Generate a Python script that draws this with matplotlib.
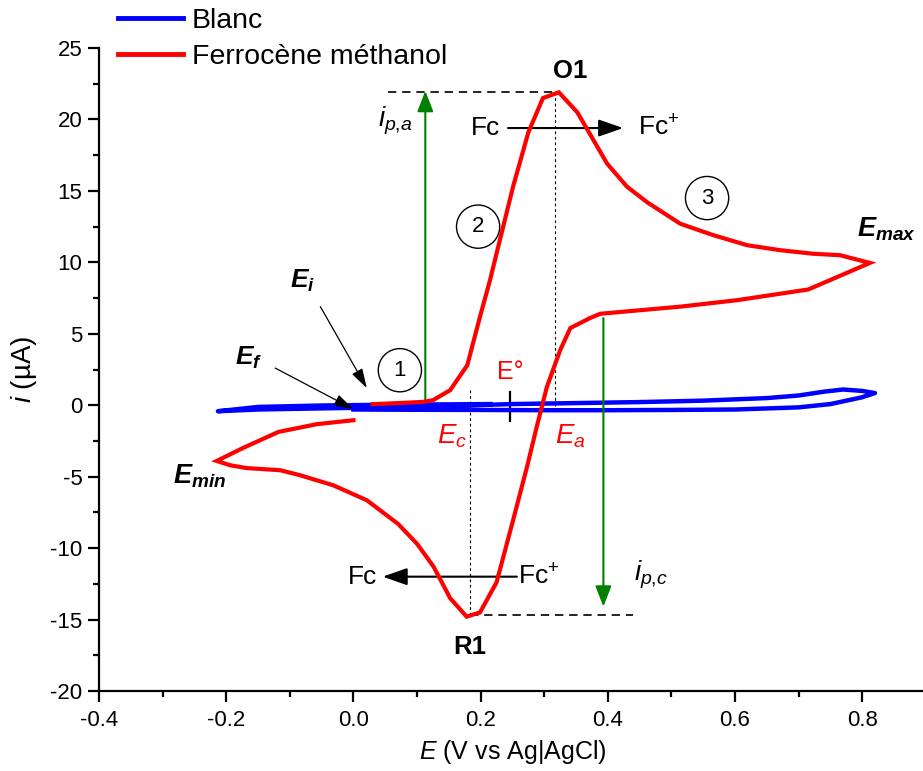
import matplotlib
matplotlib.use("Agg")
import matplotlib.pyplot as plt

plt.rcParams['font.family'] = ['Liberation Sans', 'DejaVu Sans']
plt.rcParams['mathtext.fontset'] = 'custom'
plt.rcParams['mathtext.rm'] = 'Liberation Sans'
plt.rcParams['mathtext.it'] = 'Liberation Sans:italic'
plt.rcParams['mathtext.bf'] = 'Liberation Sans:bold'
plt.rcParams['mathtext.bfit'] = 'Liberation Sans:italic:bold'
plt.rcParams['axes.unicode_minus'] = False

# Ferrocène méthanol CV
fc_E = [0.03, 0.07, 0.109, 0.125, 0.152, 0.179, 0.199, 0.215, 0.226, 0.251, 0.275, 0.298,
        0.323, 0.352, 0.399, 0.430, 0.462, 0.514, 0.566, 0.619, 0.671, 0.723, 0.765, 0.812,
        0.749, 0.715, 0.603, 0.514, 0.388, 0.372, 0.341, 0.325, 0.304, 0.288, 0.273, 0.251,
        0.225, 0.199, 0.178, 0.152, 0.126, 0.100, 0.070, 0.021, -0.032, -0.084, -0.115,
        -0.168, -0.194, -0.215, -0.174, -0.118, -0.058, 0.0]
fc_i = [0.07, 0.15, 0.23, 0.35, 1.05, 2.8, 6.2, 8.8, 10.8, 15.3, 19.1, 21.5,
        21.9, 20.5, 16.9, 15.3, 14.2, 12.7, 11.9, 11.2, 10.85, 10.6, 10.5, 9.96,
        8.75, 8.1, 7.35, 6.9, 6.4, 6.1, 5.4, 3.85, 1.26, -1.54, -4.3, -8.05,
        -12.4, -14.5, -14.8, -13.5, -11.3, -9.7, -8.3, -6.65, -5.6, -4.9, -4.55,
        -4.4, -4.2, -3.9, -3.0, -1.87, -1.33, -1.05]

# Blanc CV
bl_E = [0.215, 0.15, 0.05, -0.05, -0.15, -0.213, -0.15, -0.05, 0.05, 0.15, 0.25, 0.35,
        0.45, 0.55, 0.65, 0.70, 0.74, 0.77, 0.80, 0.82, 0.80, 0.75, 0.70, 0.60, 0.50,
        0.40, 0.30, 0.20, 0.10, 0.0]
bl_i = [0.08, 0.06, 0.03, -0.02, -0.12, -0.42, -0.3, -0.22, -0.15, -0.05, 0.08, 0.15,
        0.22, 0.32, 0.5, 0.68, 0.95, 1.1, 1.0, 0.85, 0.56, 0.08, -0.15, -0.3, -0.33,
        -0.35, -0.35, -0.33, -0.32, -0.3]

x_ticks = [-0.4, -0.2, 0.0, 0.2, 0.4, 0.6, 0.8]
y_ticks = [-20, -15, -10, -5, 0, 5, 10, 15, 20, 25]

fig = plt.figure(figsize=(9.23, 7.71), dpi=100)
ax = fig.add_axes([0.1073, 0.1038, 0.8958, 0.8339])

ax.plot(bl_E, bl_i, color='#0000ff', lw=3.2, label='Blanc', solid_joinstyle='round', zorder=3)
ax.plot(fc_E, fc_i, color='#ff0000', lw=3.0, label='Ferrocène méthanol', solid_joinstyle='miter', zorder=4)

ax.set_xlim(-0.4, 0.9)
ax.set_ylim(-20, 25)
ax.set_xticks(x_ticks)
ax.set_xticklabels([f'{v:.1f}' for v in x_ticks])
ax.set_yticks(y_ticks)
ax.set_xticks([-0.3, -0.1, 0.1, 0.3, 0.5, 0.7], minor=True)
ax.set_yticks([-17.5, -12.5, -7.5, -2.5, 2.5, 7.5, 12.5, 17.5, 22.5], minor=True)
for s in ['top', 'right']:
    ax.spines[s].set_visible(False)
for s in ['left', 'bottom']:
    ax.spines[s].set_linewidth(1.6)
ax.tick_params(which='major', direction='out', length=8, width=1.6, labelsize=16)
ax.tick_params(which='minor', direction='out', length=4, width=1.6)
ax.tick_params(axis='x', which='major', pad=6)
ax.tick_params(axis='y', which='major', pad=4)

ax.set_xlabel(r'$E$ (V vs Ag|AgCl)', fontsize=18, labelpad=5)
ax.set_ylabel(r'$i$ (µA)', fontsize=20, labelpad=8)

leg = ax.legend(loc='upper left', bbox_to_anchor=(0.1155, 1.004), bbox_transform=fig.transFigure,
                frameon=False, fontsize=20.5, handlelength=2.28, handletextpad=0.32,
                labelspacing=0.35, borderaxespad=0)
for line in leg.get_lines():
    line.set_linewidth(3.5)

# dashed / dotted guide lines
ax.plot([0.055, 0.317], [21.9, 21.9], color='black', lw=1.2, ls=(0, (5, 3.5)))
ax.plot([0.183, 0.44], [-14.7, -14.7], color='black', lw=1.2, ls=(0, (5, 3.5)))
ax.plot([0.317, 0.317], [21.9, -0.1], color='black', lw=0.8, ls=(0, (2.5, 2.5)))
ax.plot([0.184, 0.184], [1.1, -14.7], color='black', lw=0.8, ls=(0, (2.5, 2.5)))
ax.plot([0.246, 0.246], [0.93, -1.1], color='black', lw=1.6)

# green peak arrows
ax.annotate('', xy=(0.113, 22.0), xytext=(0.113, 0.3),
            arrowprops=dict(arrowstyle='-|>,head_length=0.9,head_width=0.35', color='#008000',
                            lw=1.5, mutation_scale=14, shrinkA=0, shrinkB=0))
ax.annotate('', xy=(0.393, -14.1), xytext=(0.393, 6.1),
            arrowprops=dict(arrowstyle='-|>,head_length=0.9,head_width=0.35', color='#008000',
                            lw=1.5, mutation_scale=14, shrinkA=0, shrinkB=0))

# Fc -> Fc+ arrows
ax.annotate('', xy=(0.424, 19.4), xytext=(0.243, 19.4),
            arrowprops=dict(arrowstyle='-|>,head_length=1.0,head_width=0.35', color='black',
                            lw=1.5, mutation_scale=15, shrinkA=0, shrinkB=0))
ax.annotate('', xy=(0.046, -12.0), xytext=(0.257, -12.0),
            arrowprops=dict(arrowstyle='-|>,head_length=1.0,head_width=0.35', color='black',
                            lw=1.5, mutation_scale=15, shrinkA=0, shrinkB=0))
ax.text(0.231, 19.4, 'Fc', fontsize=19, ha='right', va='center')
ax.text(0.447, 19.4, 'Fc$^{+}$', fontsize=19, ha='left', va='center')
ax.text(0.037, -12.0, 'Fc', fontsize=19, ha='right', va='center')
ax.text(0.259, -12.0, 'Fc$^{+}$', fontsize=19, ha='left', va='center')

# E_i / E_f arrows
ax.annotate('', xy=(0.021, 1.2), xytext=(-0.052, 6.9),
            arrowprops=dict(arrowstyle='-|>,head_length=1.0,head_width=0.3', color='black',
                            lw=0.9, mutation_scale=12, shrinkA=0, shrinkB=0))
ax.annotate('', xy=(0.0, -0.28), xytext=(-0.123, 2.6),
            arrowprops=dict(arrowstyle='-|>,head_length=1.0,head_width=0.3', color='black',
                            lw=0.9, mutation_scale=12, shrinkA=0, shrinkB=0))

# labels
ax.text(0.341, 23.4, 'O1', fontsize=18.5, fontweight='bold', ha='center', va='center')
ax.text(0.183, -16.9, 'R1', fontsize=18.5, fontweight='bold', ha='center', va='center')
ax.text(0.066, 19.9, r'$i_{p{,}a}$', fontsize=20, ha='center', va='center')
ax.text(0.468, -11.9, r'$i_{p{,}c}$', fontsize=20, ha='center', va='center')
ax.text(0.246, 2.3, 'E°', fontsize=18, color='#ff0000', ha='center', va='center')
ax.text(0.155, -2.2, r'$E_c$', fontsize=20, color='#ff0000', ha='center', va='center')
ax.text(0.341, -2.2, r'$E_a$', fontsize=20, color='#ff0000', ha='center', va='center')
ax.text(-0.08, 8.7, r'$\mathbfit{E}_{\mathbfit{i}}$', fontsize=19, ha='center', va='center')
ax.text(-0.165, 3.3, r'$\mathbfit{E}_{\mathbfit{f}}$', fontsize=19, ha='center', va='center')
ax.text(0.838, 12.3, r'$\mathbfit{E}_{\mathbfit{max}}$', fontsize=19.5, ha='center', va='center')
ax.text(-0.242, -5.0, r'$\mathbfit{E}_{\mathbfit{min}}$', fontsize=19.5, ha='center', va='center')

for num, (xx, yy) in zip(['1', '2', '3'], [(0.073, 2.45), (0.196, 12.5), (0.556, 14.5)]):
    ax.text(xx, yy, num, fontsize=16, ha='center', va='center',
            bbox=dict(boxstyle='circle,pad=0.5', fc='none', ec='black', lw=1.0))

fig.savefig('out.png', dpi=100)
